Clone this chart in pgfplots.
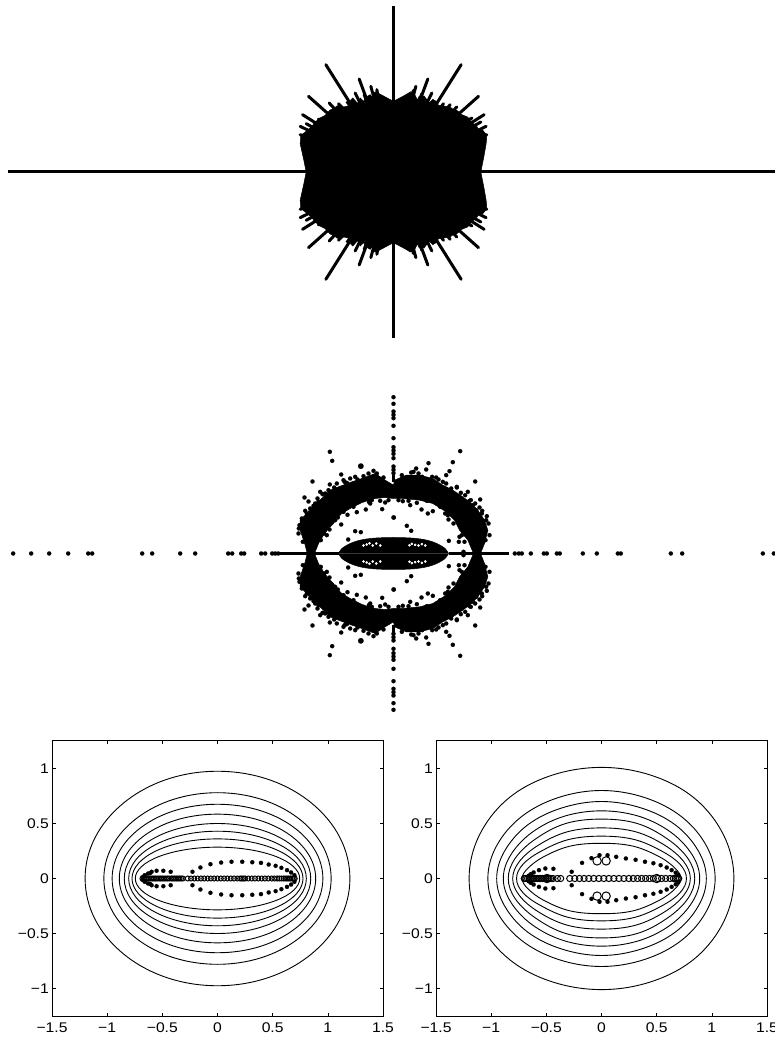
\documentclass[border=0pt]{standalone}
\usepackage{fontspec}
\setmainfont{Liberation Sans}
\newfontfamily\tl[FakeStretch=1.12]{Liberation Sans}
\usepackage{pgfplots}
\usepackage{pgfplotstable}
\pgfplotsset{compat=1.18}
\newcommand\ctr[8]{%
 \addplot[black,line width=0.9pt,smooth cycle,tension=0.62,no markers] coordinates {(#1,0)(#2,#3)(#4,#5)(#6,#7)(0,#8)(-#6,#7)(-#4,#5)(-#2,#3)(-#1,0)(-#2,-#3)(-#4,-#5)(-#6,-#7)(0,-#8)(#6,-#7)(#4,-#5)(#2,-#3)};
}
\pgfplotsset{
 fd/.style={only marks,mark=*,mark size=2.1pt,mark options={fill=black,draw=black,line width=0.1pt}},
 od/.style={only marks,mark=o,mark options={draw=black,fill=white,line width=1pt}},
 lower/.style={
  width=331pt,height=275pt,scale only axis,
  xmin=-1.5,xmax=1.5,ymin=-1.25,ymax=1.25,
  axis line style={black,line width=1pt},
  tick style={black,line width=0.6pt},tick align=inside,major tick length=3.5pt,
  xtick={-1.5,-1,-0.5,0,0.5,1,1.5},xticklabels={−1.5,−1,−0.5,0,0.5,1,1.5},
  ytick={-1,-0.5,0,0.5,1},yticklabels={−1,−0.5,0,0.5,1},
  tick label style={font=\tl\fontsize{14}{16}\selectfont,inner sep=1pt},
  xticklabel style={yshift=-6pt},yticklabel style={xshift=-2pt},
  clip=true},
 free/.style={hide axis,scale only axis,clip=false}
}
\pgfplotstableread{
x y
262 0
270 40
278 85
280 110
268 125
255 128
248 140
232 150
222 165
205 172
190 185
176 190
170 195
150 198
135 200
128 212
118 218
108 208
96 222
92 228
76 226
72 215
60 240
50 240
44 236
30 228
15 220
0 212
-15 220
-30 228
-45 236
-50 242
-58 238
-62 222
-70 232
-80 226
-90 212
-100 222
-108 206
-122 222
-128 216
-135 198
-150 195
-158 202
-170 198
-176 192
-190 186
-205 170
-225 160
-235 148
-250 132
-262 122
-278 110
-280 85
-270 40
-262 0
}\blob
\pgfplotstableread{
x y
0 0
203 322
0 0
255 227
0 0
272 172
0 0
278 137
0 0
280 112
0 0
103 279
0 0
67 257
0 0
115 237
0 0
-203 322
0 0
-255 227
0 0
-273 172
0 0
-280 137
0 0
-280 112
0 0
-103 279
0 0
-68 257
0 0
-115 237
0 0
-193 207
0 0
-225 159
0 0
190 195
0 0
225 160
0 0
-50 247
0 0
-88 232
0 0
60 245
0 0
85 235
0 0
150 205
0 0
-165 205
0 0
235 162
0 0
262 150
0 0
170 202
0 0
-240 150
0 0
-262 145
0 0
-140 212
}\rays
\pgfplotstableread{
x y
263 5
273 30
283 70
273 100
253 130
233 150
208 170
178 190
148 205
118 225
78 235
38 235
3 220
0 205
-25 220
-55 240
-95 225
-125 215
-165 200
-190 190
-215 165
-240 145
-265 115
-280 100
-280 70
-265 25
-260 5
-235 5
-225 30
-210 55
-195 75
-180 90
-170 105
-155 120
-130 135
-110 145
-90 155
-55 165
-25 168
0 165
28 165
78 160
118 150
158 125
183 100
198 70
223 40
238 5
}\ring
\pgfplotstableread{
x y
-191 305
-184 278
-157 237
-243 216
-191 207
-147 215
-115 230
-90 232
-50 240
-220 185
-213 178
-195 190
-267 168
-255 156
-240 143
-225 155
-265 128
-275 105
-25 153
-74 155
-83 132
-34 133
0 108
-110 124
-138 116
-157 87
-167 108
-192 72
-200 55
-115 67
-98 64
-136 42
-90 160
-70 150
200 307
178 274
105 271
68 255
98 252
168 247
158 235
245 216
148 215
53 243
86 230
116 230
190 200
173 195
223 185
215 175
260 162
228 158
238 145
266 128
280 112
248 130
28 157
50 145
70 152
84 132
103 120
118 127
163 115
165 102
1 108
40 83
53 68
166 38
198 50
210 70
196 35
213 35
210 5
268 80
-170 210
-130 225
-75 240
-30 228
-205 180
-235 150
-250 135
-282 85
-285 60
25 235
60 245
135 222
190 198
245 150
265 120
285 90
288 55
-100 165
-150 125
-175 100
-120 140
140 140
100 158
180 90
-60 248
-108 222
-140 212
-178 198
-228 165
-260 120
-284 75
-272 35
-150 220
75 240
128 228
158 210
202 182
232 160
258 138
278 100
276 40
-40 158
-15 160
15 160
45 158
-65 160
-208 60
-218 40
205 55
-145 135
155 120
-185 95
}\scatterup
\pgfplotstableread{
x y
-165 0
-155 15
-130 30
-100 40
-60 46
0 48
60 46
100 40
130 30
155 15
165 0
}\lens
\begin{document}
\begin{tikzpicture}
\useasboundingbox (0,0) rectangle (775pt,1038pt);
% top: star of rays
\begin{axis}[free,at={(0pt,693pt)},anchor=south west,width=775pt,height=345pt,
 xmin=-1180.5,xmax=1144.5,ymin=-519,ymax=516]
\addplot[black,line width=3pt] coordinates {(-1158,0) (1144.5,0)};
\addplot[black,line width=3pt] coordinates {(0,-499) (0,499)};
\addplot[fill=black,draw=black,line width=0.5pt] table {\blob};
\addplot[fill=black,draw=black,line width=0.5pt] table[y expr=-\thisrow{y}] {\blob};
\addplot[black,line width=3pt,line join=round] table {\rays};
\addplot[black,line width=3pt,line join=round] table[y expr=-\thisrow{y}] {\rays};
\end{axis}
% middle: eigenvalue dots
\begin{axis}[free,at={(0pt,313pt)},anchor=south west,width=775pt,height=340pt,
 xmin=-1180.5,xmax=1144.5,ymin=-514.5,ymax=505.5]
\addplot[fill=black,draw=black,line width=0.5pt] table {\ring};
\addplot[fill=black,draw=black,line width=0.5pt] table[y expr=-\thisrow{y}] {\ring};
\addplot[fd] table {\scatterup};
\addplot[fd] table[y expr=-\thisrow{y}] {\scatterup};
\addplot[fd,mark size=2.8pt] coordinates {(-98,262)(-98,-262)};
\addplot[fill=black,draw=black,line width=0.5pt,smooth] table {\lens};
\addplot[fill=black,draw=black,line width=0.5pt,smooth] table[y expr=-\thisrow{y}] {\lens};
\addplot[only marks,mark=*,mark size=1.1pt,mark options={fill=white,draw=white}] coordinates {
 (-90,24)(-80,27)(-72,31)(-62,24)(-52,30)(-40,24)(55,29)(65,26)(75,24)(85,28)(95,24)(48,25)
 (-90,-24)(-80,-27)(-72,-31)(-62,-24)(-52,-30)(-40,-24)(55,-29)(65,-26)(75,-24)(85,-28)(95,-24)(48,-25)};
\addplot[black,line width=3.2pt] coordinates {(-345,0) (-165,0)};
\addplot[black,line width=3.2pt] coordinates {(165,0) (205,0)};
\addplot[black,line width=3.2pt] coordinates {(215,0) (345,0)};
\addplot[black,line width=3.2pt] coordinates {(0,215) (0,235)};
\addplot[black,line width=3.2pt] coordinates {(0,-215) (0,-235)};
\addplot[fd] coordinates {(-1141,0)(-1087,0)(-1033,0)(-976,0)(-916,0)(-904,0)(-754,0)(-724,0)(-640,0)(-595,0)(-496,0)(-484,0)(-457,0)(-448,0)(-397,0)(-385,0)(-364,0)(-355,0)(-346,0)
 (364,0)(376,0)(385,0)(412,0)(451,0)(460,0)(490,0)(499,0)(568,0)(610,0)(673,0)(682,0)(832,0)(866,0)(1108,0)(1141,0)};
\addplot[fd] coordinates {(0,469)(0,449)(0,426)(0,416)(0,406)(0,383)(0,346)(0,319)(0,309)(0,299)(0,286)(0,261)(0,251)(0,241)
 (0,-469)(0,-449)(0,-426)(0,-416)(0,-406)(0,-383)(0,-346)(0,-319)(0,-309)(0,-299)(0,-286)(0,-261)(0,-251)(0,-241)};
\end{axis}
% lower left
\begin{axis}[lower,at={(52pt,22pt)},anchor=south west]
\ctr{1.2}{1.109}{.373}{.848}{.689}{.46}{.901}{.975}
\ctr{1.03}{.952}{.299}{.728}{.551}{.394}{.721}{.78}
\ctr{.955}{.882}{.259}{.675}{.477}{.366}{.624}{.675}
\ctr{.89}{.822}{.224}{.629}{.414}{.341}{.541}{.585}
\ctr{.845}{.781}{.192}{.597}{.354}{.324}{.462}{.5}
\ctr{.805}{.744}{.165}{.569}{.304}{.308}{.397}{.43}
\ctr{.775}{.716}{.138}{.548}{.255}{.297}{.333}{.36}
\ctr{.745}{.688}{.109}{.527}{.201}{.285}{.263}{.285}
\addplot[od,mark size=2.5pt] coordinates {(-.68,0)(-.665,0)(-.65,0)(-.635,0)(-.62,0)(-.605,0)(-.59,0)(-.575,0)(-.56,0)(-.545,0)(-.53,0)(-.515,0)(-.5,0)(-.485,0)(-.47,0)(-.455,0)(-.44,0)(-.42,0)(-.405,0)(-.39,0)(-.375,0)(-.36,0)(-.345,0)(-.33,0)(-.315,0)
 (-.27,0)(-.24,0)(-.21,0)(-.18,0)(-.15,0)(-.12,0)(-.09,0)(-.06,0)(-.03,0)(0,0)(.03,0)(.06,0)(.09,0)(.12,0)(.15,0)(.18,0)(.205,0)(.22,0)(.235,0)(.25,0)(.28,0)(.31,0)(.34,0)(.37,0)(.40,0)(.43,0)(.46,0)(.49,0)(.515,0)(.54,0)(.56,0)(.58,0)(.60,0)(.615,0)(.63,0)(.645,0)(.66,0)(.675,0)(.69,0)(.70,0)};
\addplot[fd] coordinates {(-.68,.012)(-.66,.03)(-.63,.045)(-.61,.05)(-.597,.061)(-.552,.07)(-.491,.07)(-.424,.061)(-.227,.061)(-.155,.1)(-.064,.13)(.033,.145)(.127,.152)(.224,.152)(.315,.148)(.394,.142)(.464,.127)(.527,.115)(.579,.097)(.63,.076)(.667,.055)(.697,.03)
 (-.68,-.012)(-.66,-.03)(-.63,-.045)(-.61,-.05)(-.597,-.061)(-.552,-.07)(-.491,-.07)(-.424,-.061)(-.227,-.061)(-.155,-.1)(-.064,-.13)(.033,-.145)(.127,-.152)(.224,-.152)(.315,-.148)(.394,-.142)(.464,-.127)(.527,-.115)(.579,-.097)(.63,-.076)(.667,-.055)(.697,-.03)};
\end{axis}
% lower right
\begin{axis}[lower,at={(436pt,22pt)},anchor=south west]
\ctr{1.2}{1.109}{.39}{.848}{.725}{.46}{.935}{1.01}
\ctr{1.03}{.952}{.295}{.728}{.56}{.394}{.735}{.8}
\ctr{.95}{.878}{.25}{.672}{.485}{.364}{.64}{.7}
\ctr{.89}{.822}{.215}{.629}{.42}{.341}{.565}{.615}
\ctr{.845}{.781}{.185}{.597}{.36}{.324}{.50}{.54}
\ctr{.805}{.744}{.155}{.569}{.305}{.308}{.425}{.46}
\ctr{.77}{.711}{.13}{.544}{.25}{.295}{.355}{.385}
\ctr{.72}{.665}{.095}{.52}{.2}{.282}{.295}{.32}
\addplot[od,mark size=3.1pt] coordinates {(-.7,0)(-.685,0)(-.67,0)(-.655,0)(-.64,0)(-.625,0)(-.61,0)(-.595,0)(-.58,0)(-.565,0)(-.55,0)(-.535,0)(-.52,0)(-.505,0)(-.49,0)(-.475,0)(-.46,0)(-.44,0)(-.40,0)(-.37,0)
 (-.288,0)(-.242,0)(-.2,0)(-.158,0)(-.115,0)(-.07,0)(-.024,0)(.021,0)(.067,0)(.112,0)(.158,0)(.203,0)(.248,0)(.288,0)(.327,0)(.364,0)(.4,0)(.436,0)(.47,0)(.51,0)(.545,0)(.582,0)(.621,0)(.652,0)(.67,0)(.685,0)(.70,0)};
\addplot[od,mark size=4.2pt] coordinates {(-.494,0)(.5,0)(-.04,.16)(.042,.16)(-.04,-.16)(.042,-.16)};
\addplot[fd] coordinates {(-.66,.025)(-.64,.04)(-.615,.055)(-.567,.076)(-.509,.091)(-.436,.088)(-.27,.061)(-.176,.142)(-.091,.185)(-.018,.212)(.055,.212)(.133,.197)(.221,.182)(.309,.17)(.394,.152)(.47,.139)(.536,.121)(.591,.1)(.636,.076)(.673,.052)(.697,.03)
 (-.66,-.025)(-.64,-.04)(-.615,-.055)(-.567,-.076)(-.509,-.091)(-.436,-.088)(-.27,-.061)(-.176,-.142)(-.091,-.185)(-.018,-.212)(.055,-.212)(.133,-.197)(.221,-.182)(.309,-.17)(.394,-.152)(.47,-.139)(.536,-.121)(.591,-.1)(.636,-.076)(.673,-.052)(.697,-.03)};
\end{axis}
\end{tikzpicture}
\end{document}
